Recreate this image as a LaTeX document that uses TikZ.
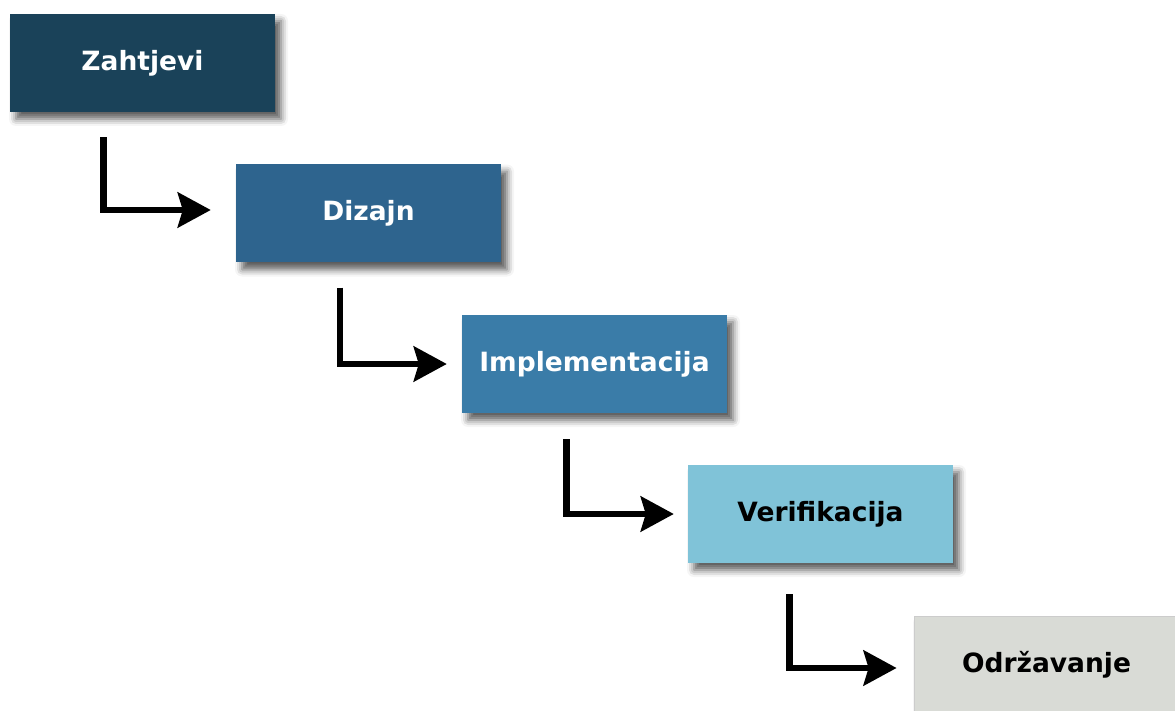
\documentclass[tikz,border=0pt]{standalone}
\usepackage{fontspec}
\setmainfont{DejaVu Sans}
\usetikzlibrary{arrows.meta,shadows.blur,calc}
\definecolor{c1}{HTML}{1A4259}
\definecolor{c2}{HTML}{2E648E}
\definecolor{c3}{HTML}{3A7CA8}
\definecolor{c4}{HTML}{80C3D8}
\definecolor{c5}{HTML}{D9DBD6}
\tikzset{
  phase/.style={minimum width=265pt, minimum height=98pt, inner sep=0pt,
    font=\fontsize{26.5}{30}\selectfont\bfseries,
    blur shadow={shadow xshift=6pt, shadow yshift=-7pt, shadow blur radius=7pt, shadow opacity=65}},
  flow/.style={line width=6.5pt, -{Stealth[length=33pt, width=35pt, inset=5pt]}}
}
\begin{document}
\begin{tikzpicture}[x=1pt, y=-1pt]
\useasboundingbox (0,0) rectangle (1175,711);
\clip (0,0) rectangle (1175,711);
\node[phase, fill=c1, text=white] (z) at (142.5,63) {Zahtjevi};
\node[phase, fill=c2, text=white] (d) at (368.5,213.5) {Dizajn};
\node[phase, fill=c3, text=white] (i) at (594.5,364) {Implementacija};
\node[phase, fill=c4, text=black] (v) at (820.5,514) {Verifikacija};
\node[phase, fill=c5, text=black, draw=black!20, line width=0.8pt] (o) at (1046.5,665) {Održavanje};
\foreach \a/\b/\dx/\dy/\gap/\hy in {z/d/93.5/25/25/-3.5, d/i/104/25/15/0, i/v/104.5/26/14/0, v/o/101.5/31/17/3}{
  \draw[flow] ($(\a.south west)+(\dx,\dy)$) |- ($(\b.west)+(-\gap,\hy)$);
}
\end{tikzpicture}
\end{document}
